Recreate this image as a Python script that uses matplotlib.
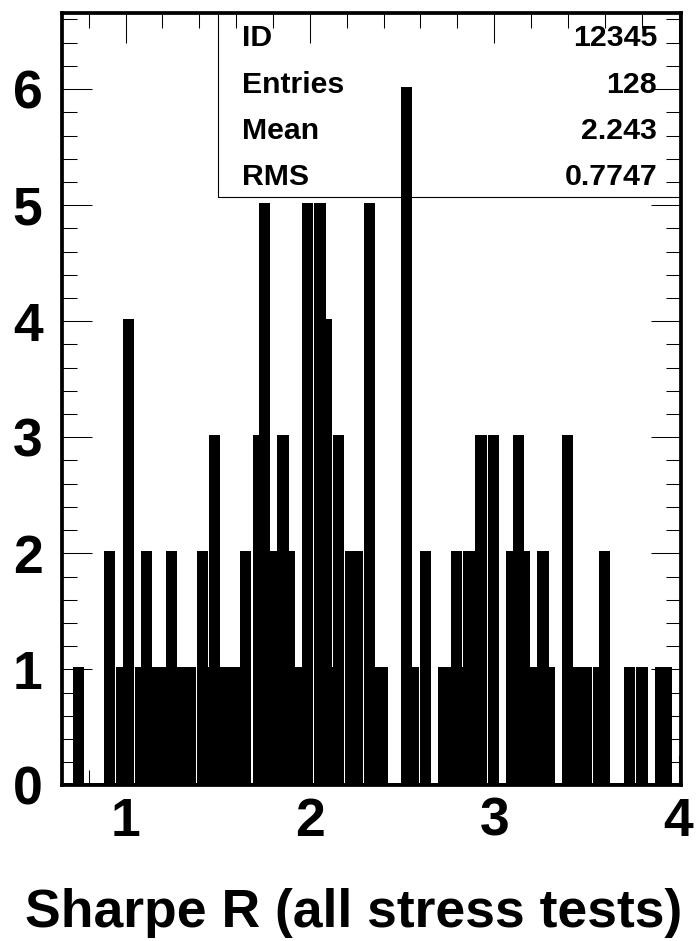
"""PAW-style histogram: Sharpe ratio over all stress tests."""
import numpy as np
import matplotlib
matplotlib.use("Agg")
import matplotlib.pyplot as plt
from matplotlib.ticker import MultipleLocator

# --- data: 100 equal-width bins between x_lo and x_hi ---
counts = [0, 0, 1, 0, 0, 0, 0, 2, 0, 1,
          4, 0, 1, 2, 1, 1, 1, 2, 1, 1,
          1, 0, 2, 1, 3, 1, 1, 1, 1, 2,
          0, 3, 5, 2, 2, 3, 2, 1, 1, 5,
          0, 5, 4, 1, 3, 0, 2, 2, 0, 5,
          1, 1, 0, 0, 0, 6, 1, 0, 2, 0,
          0, 1, 1, 2, 1, 2, 2, 3, 0, 3,
          0, 0, 2, 3, 2, 1, 1, 2, 1, 0,
          0, 3, 1, 1, 1, 0, 1, 2, 0, 0,
          0, 1, 0, 1, 0, 0, 1, 1, 0, 0]
x_lo, x_hi = 0.659, 4.017
x_ticks = [1, 2, 3, 4]
y_ticks = [0, 1, 2, 3, 4, 5, 6]
stat_names = ["ID", "Entries", "Mean", "RMS"]
stat_values = ["12345", "128", "2.243", "0.7747"]
x_title = "Sharpe R (all stress tests)"

FONT = "Liberation Sans"
W, H = 697, 941

fig = plt.figure(figsize=(W / 100, H / 100), dpi=100, facecolor="white")
# axes frame in pixels: left 62, right 681.3, top 12.5, bottom 785.4
ax = fig.add_axes([62 / W, 1 - 785.4 / H, (681.3 - 62) / W, (785.4 - 12.5) / H])

edges = np.linspace(x_lo, x_hi, len(counts) + 1)
ax.stairs(counts, edges, fill=True, color="black", lw=0)
ax.stairs(counts, edges, fill=False, color="black", lw=3.6, joinstyle="miter")

ax.set_xlim(0.655, 4.015)
ax.set_ylim(0, 6.66)
ax.set_xticks(x_ticks)
ax.set_yticks(y_ticks)
ax.xaxis.set_minor_locator(MultipleLocator(0.2))
ax.yaxis.set_minor_locator(MultipleLocator(0.2))
ax.tick_params(which="both", direction="in", top=True, right=True, width=0.75, color="black")
ax.tick_params(which="major", length=21.5)
ax.tick_params(which="minor", length=10.5)
ax.tick_params(axis="y", which="major", pad=14)
ax.tick_params(axis="x", which="major", pad=8)
for lab in ax.get_xticklabels() + ax.get_yticklabels():
    lab.set_fontfamily(FONT)
    lab.set_fontweight("bold")
    lab.set_fontsize(38.5)
for sp in ax.spines.values():
    sp.set_linewidth(2.7)
    sp.set_zorder(5)

# statistics box (outline only, top-right corner)
box_left, box_bottom = 0.2519, 0.7609
ax.plot([box_left, box_left, 1], [1, box_bottom, box_bottom], color="black",
        lw=0.8, transform=ax.transAxes, clip_on=False, zorder=4)
row_h = (1 - box_bottom) / len(stat_names)
for i, (name, val) in enumerate(zip(stat_names, stat_values)):
    yb = 1 - row_h * (i + 0.5) - 0.014
    ax.text(0.2906, yb, name, transform=ax.transAxes, ha="left", va="baseline",
            fontsize=21.8, fontweight="bold", fontfamily=FONT, zorder=6)
    ax.text(0.9608, yb, val, transform=ax.transAxes, ha="right", va="baseline",
            fontsize=21.8, fontweight="bold", fontfamily=FONT, zorder=6)

fig.text(682 / W, 1 - 927 / H, x_title, ha="right", va="baseline",
         fontsize=38.5, fontweight="bold", fontfamily=FONT)

fig.savefig("out.png", dpi=100, facecolor="white")
